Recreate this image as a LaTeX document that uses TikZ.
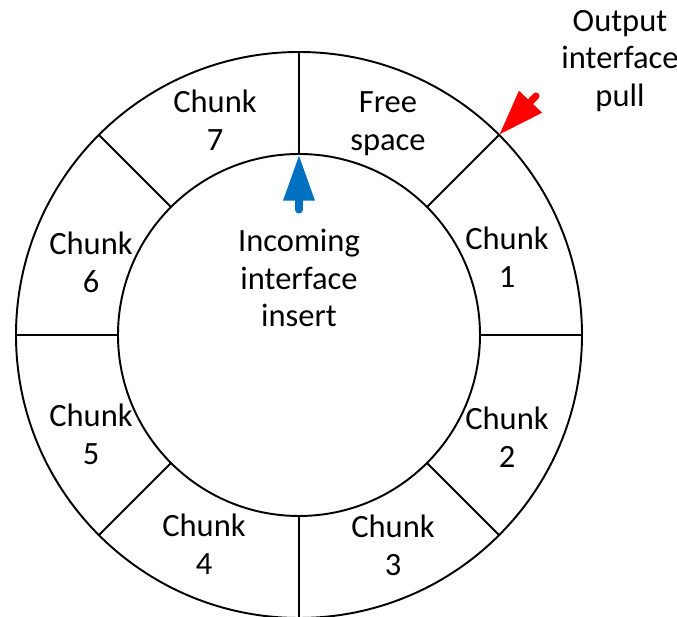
\documentclass[tikz,border=0pt]{standalone}
\usepackage{fontspec}
\setmainfont{Carlito}
\usetikzlibrary{arrows.meta}
\definecolor{pushblue}{RGB}{0,112,192}
\begin{document}
\begin{tikzpicture}[x=0.02cm, y=0.02cm, line width=1.1pt,
  font=\fontsize{18.5}{21.5}\selectfont,
  lbl/.style={align=center, inner sep=0pt},
  feed/.style={line width=4pt, line cap=round, -{Triangle[length=26pt, width=17pt]}}]
\useasboundingbox (-299,-282) rectangle (378,335);

% ring buffer: outer and inner rim
\draw (0,0) circle[radius=283];
\draw (0,0) circle[radius=181];

% slot borders every 45 degrees
\foreach \a in {0,45,...,315}
  \draw (\a:181) -- (\a:283);

% slot contents, going clockwise from the top
\foreach \x/\y/\name/\txt in {89/211/free/Free\\space, 208/78/c1/Chunk\\1,
    208/-102/c2/Chunk\\2, 94/-210/c3/Chunk\\3, -95/-209/c4/Chunk\\4,
    -208/-99/c5/Chunk\\5, -208/73/c6/Chunk\\6, -84/215/c7/Chunk\\7}
  \node[lbl] (\name) at (\x,\y) {\txt};

\node[lbl] (core) at (0,57) {Incoming\\interface\\insert};
\node[lbl] (pull) at (321,274) {Output\\interface\\pull};

% read pointer (outside) and write pointer (inside)
\coordinate (pullTail) at (237,239);
\coordinate (pullTip) at (45:283);
\draw[feed, red] (pullTail) -- (pullTip);

\coordinate (insertTail) at (0,125);
\coordinate (insertTip) at (90:180);
\draw[feed, pushblue] (insertTail) -- (insertTip);
\end{tikzpicture}
\end{document}
